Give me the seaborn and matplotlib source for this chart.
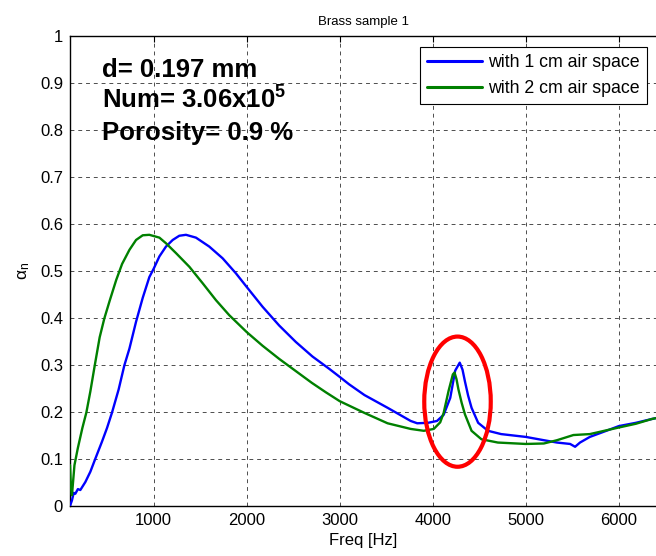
import matplotlib
matplotlib.use("Agg")
import matplotlib.pyplot as plt
import seaborn as sns
import pandas as pd
from matplotlib.patches import Ellipse
from matplotlib.lines import Line2D

# ---- data ----
freq_1cm = [100, 121, 140, 157, 185, 211, 265, 319, 373, 444, 498, 552, 623, 684, 739,
            810, 882, 953, 1000, 1061, 1132, 1204, 1275, 1347, 1454, 1597, 1741, 1884,
            2000, 2170, 2349, 2528, 2707, 2886, 3004, 3100, 3266, 3514, 3762, 3833, 3950,
            4046, 4117, 4188, 4241, 4290, 4320, 4346, 4380, 4417, 4488, 4594, 4735, 5000,
            5194, 5336, 5477, 5530, 5583, 5689, 5866, 6000, 6184, 6353, 6400]
alpha_1cm = [0.0, 0.012, 0.028, 0.026, 0.036, 0.034, 0.051, 0.073, 0.101, 0.137, 0.166,
             0.199, 0.248, 0.299, 0.335, 0.392, 0.443, 0.487, 0.505, 0.531, 0.552, 0.566,
             0.575, 0.577, 0.571, 0.552, 0.527, 0.495, 0.466, 0.424, 0.384, 0.349, 0.318,
             0.292, 0.274, 0.259, 0.236, 0.209, 0.181, 0.176, 0.177, 0.181, 0.194, 0.23,
             0.288, 0.305, 0.29, 0.265, 0.235, 0.209, 0.177, 0.16, 0.153, 0.147, 0.14,
             0.135, 0.132, 0.126, 0.135, 0.147, 0.16, 0.17, 0.177, 0.185, 0.187]

freq_2cm = [100, 110, 121, 148, 184, 233, 276, 319, 366, 419, 469, 527, 597, 660, 739,
            810, 882, 953, 1061, 1132, 1240, 1383, 1526, 1669, 1812, 2000, 2170, 2349,
            2528, 2700, 2850, 3000, 3266, 3514, 3762, 3904, 4011, 4080, 4117, 4170, 4216,
            4234, 4255, 4276, 4310, 4346, 4417, 4523, 4700, 5000, 5194, 5336, 5512, 5689,
            5866, 6000, 6184, 6353, 6400]
alpha_2cm = [0.087, 0.04, 0.023, 0.087, 0.123, 0.166, 0.199, 0.244, 0.299, 0.359, 0.399,
             0.437, 0.481, 0.515, 0.545, 0.566, 0.576, 0.577, 0.571, 0.559, 0.538, 0.509,
             0.474, 0.438, 0.406, 0.370, 0.341, 0.313, 0.287, 0.262, 0.242, 0.223, 0.198,
             0.176, 0.164, 0.160, 0.164, 0.178, 0.198, 0.245, 0.28, 0.284, 0.27, 0.248,
             0.22, 0.195, 0.16, 0.142, 0.135, 0.132, 0.133, 0.14, 0.151, 0.153, 0.161,
             0.167, 0.175, 0.185, 0.187]

series_labels = ["with 1 cm air space", "with 2 cm air space"]
series_colors = ["#0000ff", "#008000"]
x_ticks = [1000, 2000, 3000, 4000, 5000, 6000]
y_ticks = [0, 0.1, 0.2, 0.3, 0.4, 0.5, 0.6, 0.7, 0.8, 0.9, 1]
y_tick_labels = ["0", "0.1", "0.2", "0.3", "0.4", "0.5", "0.6", "0.7", "0.8", "0.9", "1"]
info_lines = ["d= 0.197 mm", r"Num= 3.06x10$^{\mathbf{5}}$", "Porosity= 0.9 %"]

df = pd.concat([
    pd.DataFrame({"freq": freq_1cm, "alpha": alpha_1cm, "series": series_labels[0]}),
    pd.DataFrame({"freq": freq_2cm, "alpha": alpha_2cm, "series": series_labels[1]}),
], ignore_index=True)

sns.set_theme(style="white")
plt.rcParams["font.family"] = ["Liberation Sans", "DejaVu Sans"]
plt.rcParams["text.color"] = "black"
plt.rcParams["axes.labelcolor"] = "black"
plt.rcParams["mathtext.fontset"] = "custom"
plt.rcParams["mathtext.rm"] = "Liberation Sans"
plt.rcParams["mathtext.it"] = "Liberation Sans"
plt.rcParams["mathtext.bf"] = "Liberation Sans:bold"

fig = plt.figure(figsize=(6.56, 5.56), dpi=100)
ax = fig.add_axes([70 / 656, 50 / 556, 586 / 656, 470 / 556])

sns.lineplot(data=df, x="freq", y="alpha", hue="series", palette=series_colors,
             estimator=None, sort=False, linewidth=1.7, legend=False, ax=ax, zorder=3)

ax.set_xlim(100, 6400)
ax.set_ylim(0, 1)
ax.set_xticks(x_ticks)
ax.set_xticklabels([str(t) for t in x_ticks])
ax.set_yticks(y_ticks)
ax.set_yticklabels(y_tick_labels)
ax.tick_params(direction="in", length=4, width=0.8, labelsize=12, top=True,
               right=False, colors="black", pad=5)
ax.grid(True, linestyle=(0, (4, 4)), color="0.3", linewidth=0.7)
for side in ["left", "bottom", "top"]:
    ax.spines[side].set_color("black")
    ax.spines[side].set_linewidth(1.0)
ax.spines["right"].set_visible(False)

ax.set_title("Brass sample 1", fontsize=9.5, pad=8, color="black")
ax.set_xlabel("Freq [Hz]", fontsize=12, labelpad=4)
ax.set_ylabel(r"$\alpha_{\mathrm{n}}$", fontsize=12.5, labelpad=6)

# red ellipse highlighting resonance peak
ax.add_patch(Ellipse((4266, 0.222), 715, 0.277, fill=False, edgecolor="#ff0000",
                     linewidth=3, zorder=4))

# annotation text
for i, line in enumerate(info_lines):
    ax.text(0.054, 0.913 - i * 0.067, line, transform=ax.transAxes, fontsize=18.5,
            fontweight="bold", va="baseline", ha="left", color="black", zorder=5)

handles = [Line2D([0], [0], color=c, lw=2.2) for c in series_colors]
leg = ax.legend(handles, series_labels, loc="upper right", bbox_to_anchor=(0.985, 0.977),
                borderaxespad=0, fontsize=12.8, frameon=True, fancybox=False,
                edgecolor="black", framealpha=1, handlelength=3.1, handletextpad=0.35,
                borderpad=0.4, labelspacing=0.5)
leg.get_frame().set_linewidth(0.8)
for t in leg.get_texts():
    t.set_color("black")

fig.savefig("out.png", dpi=100)
